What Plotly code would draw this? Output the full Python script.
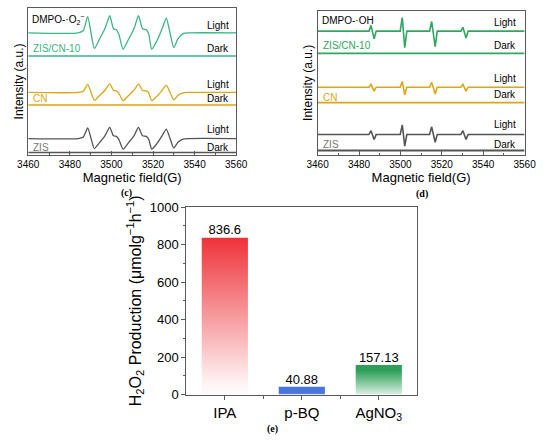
import plotly.graph_objects as go

# ---------------- data ----------------
# Panel (c) DMPO-·O2- spectra (field in G, intensity in arbitrary offset units)
field_c = [3460, 3484, 3486.5, 3488.6, 3490.2, 3491.8, 3494, 3497, 3499.2, 3501, 3502.4,
           3503.6, 3505.6, 3508, 3511, 3513, 3515, 3516.8, 3518, 3519.4, 3522, 3524.5,
           3526.4, 3528.2, 3530, 3532, 3534.5, 3537, 3560]
c_zcn_light = [127, 127, 129.5, 144, 127, 110.8, 119.3, 132.1, 144.9, 131.3, 130.4, 125.3, 110,
               119.3, 132.1, 144.9, 131.3, 130.4, 125.3, 110, 119.3, 132.1, 142.3, 127, 111.7,
               121, 126.2, 127, 127]
c_cn_light = [65, 65, 66.3, 73.5, 65, 56.9, 61.2, 67.6, 73.9, 67.1, 66.7, 64.1, 56.5, 61.2,
              67.6, 73.9, 67.1, 66.7, 64.1, 56.5, 61.2, 67.6, 72.7, 65, 57.3, 62, 64.6, 65, 65]
c_zis_light = [17, 17, 18.7, 28, 17, 6.6, 12, 20.3, 28.6, 19.8, 19.2, 15.9, 6, 12, 20.3, 28.6,
               19.8, 19.2, 15.9, 6, 12, 20.3, 26.9, 17, 7.1, 13.2, 16.5, 17, 17]
field_dark = [3460, 3560]
c_zcn_dark = [103, 103]
c_cn_dark = [52, 52]
c_zis_dark = [2.5, 2.5]

# Panel (d) DMPO-·OH spectra
field_d = [3460, 3484.8, 3485.8, 3487.3, 3488.3, 3499.9, 3500.9, 3502.1, 3503.1, 3514.1,
           3515.1, 3516.8, 3517.8, 3529.2, 3530.2, 3531.7, 3532.7, 3560]
d_zcn_light = [128, 128, 134, 120, 128, 128, 142, 111, 128, 128, 138, 112, 128, 128, 132, 121, 128, 128]
d_cn_light = [70, 70, 73, 66, 70, 70, 76, 62, 70, 70, 75, 63, 70, 70, 73, 66, 70, 70]
d_zis_light = [21, 21, 25, 16, 21, 21, 31, 9, 21, 21, 29, 13, 21, 21, 25, 16, 21, 21]
d_zcn_dark = [105, 105]
d_cn_dark = [54, 54]
d_zis_dark = [4.5, 4.5]

# Panel (e) H2O2 production with scavengers
scavengers = ["IPA", "p-BQ", "AgNO<sub>3</sub>"]
production = [836.6, 40.88, 157.13]
labels = ["836.6", "40.88", "157.13"]
bar_rgb = [(238, 52, 58), (72, 118, 218), (44, 160, 88)]

# ---------------- styling ----------------
W, H = 550, 446
FONT = "Arial, Liberation Sans, sans-serif"
GREEN_C = "rgb(58,182,132)"
GREEN_D = "rgb(44,168,96)"
ORANGE = "rgb(222,166,22)"
GRAY = "rgb(85,85,85)"
AX = "rgb(90,90,90)"


def px(x):
    return x / W


def py(y):
    return 1 - y / H


fig = go.Figure()

# panel c
for ys, col in [(c_zcn_light, GREEN_C), (c_cn_light, ORANGE), (c_zis_light, GRAY)]:
    fig.add_trace(go.Scatter(x=field_c, y=ys, mode="lines", xaxis="x", yaxis="y",
                             line=dict(color=col, width=1.3, shape="spline", smoothing=0.6),
                             showlegend=False, hoverinfo="skip"))
for ys, col in [(c_zcn_dark, GREEN_C), (c_cn_dark, ORANGE), (c_zis_dark, GRAY)]:
    fig.add_trace(go.Scatter(x=field_dark, y=ys, mode="lines", xaxis="x", yaxis="y",
                             line=dict(color=col, width=1.4), showlegend=False, hoverinfo="skip"))

# panel d
for ys, col in [(d_zcn_light, GREEN_D), (d_cn_light, ORANGE), (d_zis_light, GRAY)]:
    fig.add_trace(go.Scatter(x=field_d, y=ys, mode="lines", xaxis="x2", yaxis="y2",
                             line=dict(color=col, width=1.6), showlegend=False, hoverinfo="skip"))
for ys, col in [(d_zcn_dark, GREEN_D), (d_cn_dark, ORANGE), (d_zis_dark, GRAY)]:
    fig.add_trace(go.Scatter(x=field_dark, y=ys, mode="lines", xaxis="x2", yaxis="y2",
                             line=dict(color=col, width=1.8), showlegend=False, hoverinfo="skip"))

# panel e: gradient bars
BW = 0.6
for i, (v, (r, g, b), lab) in enumerate(zip(production, bar_rgb, labels)):
    fig.add_trace(go.Scatter(
        x=[i - BW / 2, i + BW / 2], y=[v, v], mode="lines", fill="tozeroy",
        xaxis="x3", yaxis="y3", line=dict(width=0, color=f"rgb({r},{g},{b})"),
        fillgradient=dict(type="vertical", start=0, stop=v,
                          colorscale=[[0, f"rgba({r},{g},{b},0)"],
                                      [0.1, f"rgba({r},{g},{b},0.05)"],
                                      [1, f"rgba({r},{g},{b},1)"]]),
        showlegend=False, hoverinfo="skip"))
    fig.add_trace(go.Scatter(
        x=[i], y=[v], mode="text", text=[lab], textposition="top center",
        textfont=dict(family=FONT, size=13, color="black"),
        xaxis="x3", yaxis="y3", showlegend=False, hoverinfo="skip"))

epr_x = dict(range=[3460, 3560], dtick=20, ticks="inside", ticklen=4, tickwidth=1,
             tickcolor=AX, minor=dict(dtick=10, ticks="inside", ticklen=2, tickcolor=AX),
             showline=True, linecolor=AX, linewidth=1, mirror=True, showgrid=False,
             zeroline=False, tickfont=dict(family=FONT, size=10, color="black"),
             title=dict(text="Magnetic field(G)", font=dict(family=FONT, size=13, color="black"),
                        standoff=3))
epr_y = dict(showticklabels=False, ticks="", showline=True, linecolor=AX, linewidth=1,
             mirror=True, showgrid=False, zeroline=False,
             title=dict(text="Intensity (a.u.)", font=dict(family=FONT, size=12, color="black"),
                        standoff=1))

fig.update_layout(
    width=W, height=H, autosize=False,
    margin=dict(l=0, r=0, t=0, b=0),
    paper_bgcolor="white", plot_bgcolor="white",
    font=dict(family=FONT, color="black"),
    hovermode=False,
    xaxis=dict(domain=[px(18), px(235)], anchor="y", **epr_x),
    yaxis=dict(domain=[py(153), py(1)], anchor="x", range=[0, 153], **epr_y),
    xaxis2=dict(domain=[px(320), px(536)], anchor="y2", **epr_x),
    yaxis2=dict(domain=[py(153), py(4)], anchor="x2", range=[0, 149], **epr_y),
    xaxis3=dict(domain=[px(183), px(424)], anchor="y3", range=[-0.5, 2.5],
                tickvals=[0, 1, 2], ticktext=scavengers, ticks="outside", ticklen=4,
                tickcolor=AX, minor=dict(tickvals=[0.5, 1.5], ticks="outside", ticklen=3,
                                         tickcolor=AX),
                showline=True, linecolor=AX, linewidth=1, mirror=True, showgrid=False,
                zeroline=False, tickfont=dict(family=FONT, size=15, color="black")),
    yaxis3=dict(domain=[py(401), py(207)], anchor="x3", range=[0, 1000], dtick=200,
                ticks="outside", ticklen=4, tickcolor=AX,
                minor=dict(dtick=100, ticks="outside", ticklen=2, tickcolor=AX),
                showline=True, linecolor=AX, linewidth=1, mirror=True, showgrid=False,
                zeroline=False, tickfont=dict(family=FONT, size=13, color="black"),
                title=dict(text="H<sub>2</sub>O<sub>2</sub> Production (μmolg<sup>−1</sup>h<sup>−1</sup>)",
                           font=dict(family=FONT, size=16, color="black"), standoff=4)),
)


def note(x, y, text, color="black", size=10, anchor="left", family=FONT):
    fig.add_annotation(x=px(x), y=py(y), xref="paper", yref="paper", text=text,
                       showarrow=False, xanchor=anchor, yanchor="middle",
                       font=dict(family=family, size=size, color=color))


# panel c labels
note(20, 13, "DMPO-·O<sub>2</sub><sup>−</sup>")
note(21, 43, "ZIS/CN-10", GREEN_C)
note(21, 95, "CN", ORANGE)
note(21, 145, "ZIS", "rgb(120,120,120)")
for yy, t in [(19, "Light"), (43, "Dark"), (80, "Light"), (95, "Dark"), (127, "Light"), (145, "Dark")]:
    note(202, yy, t)

# panel d labels
note(322, 14, "DMPO-·OH")
note(324, 40, "ZIS/CN-10", GREEN_D)
note(324, 94, "CN", ORANGE)
note(324, 142, "ZIS", "rgb(120,120,120)")
for yy, t in [(16, "Light"), (40, "Dark"), (74, "Light"), (91, "Dark"), (122, "Light"), (142, "Dark")]:
    note(502, yy, t)

# captions
SERIF = "Times New Roman, Liberation Serif, serif"
note(121, 192, "<b>(c)</b>", size=10, anchor="center", family=SERIF)
note(429, 193, "<b>(d)</b>", size=10, anchor="center", family=SERIF)
note(273, 437, "<b>(e)</b>", size=10, anchor="center", family=SERIF)

fig.write_html("out.html", config={"displayModeBar": False, "staticPlot": True},
               post_script="document.body.style.margin='0px';document.body.style.overflow='hidden';")
